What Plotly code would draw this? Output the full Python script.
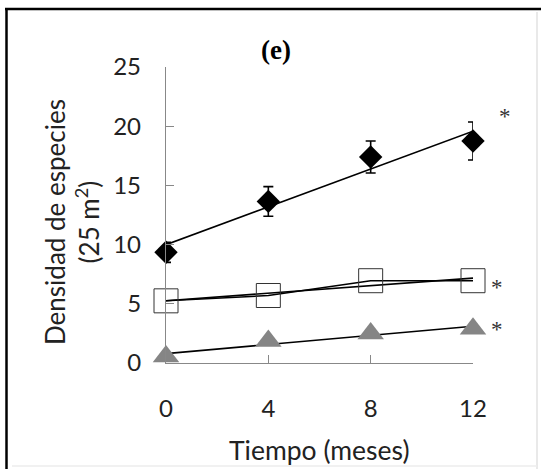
import numpy as np
import plotly.graph_objects as go

# ---- data ----
months = [0, 4, 8, 12]
diamond_vals = [9.35, 13.65, 17.4, 18.75]
diamond_err = [0.85, 1.25, 1.35, 1.6]
square_vals = [5.25, 5.7, 6.95, 6.95]
triangle_vals = [0.55, 1.85, 2.5, 2.9]
x_ticks = [0, 4, 8, 12]
y_ticks = [0, 5, 10, 15, 20, 25]
star_x = [13.25, 12.95, 12.95]
star_y = [20.8, 6.4, 2.8]

X_RANGE = [0, 12]
Y_RANGE = [0, 25]

W, H = 541, 469
L, R, T, B = 166, 68, 67, 106
pw, ph = W - L - R, H - T - B

def px2paper(px, py):
    return (px - L) / pw, (H - B - py) / ph

def trend(vals):
    m, c = np.polyfit(months, vals, 1)
    xs = [months[0], months[-1]]
    return xs, [m * x + c for x in xs]

fig = go.Figure()

fig.add_trace(go.Scatter(x=months, y=square_vals, mode="lines",
                         line=dict(color="black", width=1.5), cliponaxis=False, showlegend=False))
for vals in (diamond_vals, square_vals, triangle_vals):
    tx, ty = trend(vals)
    fig.add_trace(go.Scatter(x=tx, y=ty, mode="lines",
                             line=dict(color="black", width=1.6), cliponaxis=False, showlegend=False))

fig.add_trace(go.Scatter(x=months, y=diamond_vals, mode="markers",
                         marker=dict(symbol="diamond", size=18, color="black"),
                         error_y=dict(type="data", array=diamond_err, color="black", thickness=1.6, width=5),
                         cliponaxis=False, showlegend=False))
fig.add_trace(go.Scatter(x=months, y=square_vals, mode="markers",
                         marker=dict(symbol="square", size=24, color="rgba(255,255,255,0)",
                                     line=dict(color="#333333", width=1)),
                         cliponaxis=False, showlegend=False))
fig.add_trace(go.Scatter(x=months, y=triangle_vals, mode="markers",
                         marker=dict(symbol="triangle-up", size=23, color="#858585"),
                         cliponaxis=False, showlegend=False))

font_main = "Lato, Open Sans, sans-serif"

annotations = []
for sx, sy in zip(star_x, star_y):
    annotations.append(dict(x=(sx - X_RANGE[0]) / (X_RANGE[1] - X_RANGE[0]),
                            y=(sy - Y_RANGE[0]) / (Y_RANGE[1] - Y_RANGE[0]),
                            xref="paper", yref="paper", text="*", showarrow=False,
                            xanchor="center", yanchor="middle",
                            font=dict(family="Liberation Serif, serif", size=23, color="#333333")))

def ann(px, py, text, font, angle=0):
    ax, ay = px2paper(px, py)
    return dict(x=ax, y=ay, xref="paper", yref="paper", text=text, showarrow=False,
                xanchor="center", yanchor="middle", textangle=angle, font=font)

annotations.append(ann(276, 50, "<b>(e)</b>", dict(family="Liberation Serif, serif", size=27, color="black")))
annotations.append(ann(319, 450, "Tiempo (meses)", dict(family=font_main, size=26.5, color="#222222")))
annotations.append(ann(72, 222, "Densidad de especies<br>(25 m<sup>2</sup>)",
                       dict(family=font_main, size=26, color="#222222"), angle=-90))

def pline(px0, py0, px1, py1, color, width):
    a0, b0 = px2paper(px0, py0)
    a1, b1 = px2paper(px1, py1)
    return dict(type="line", xref="paper", yref="paper", x0=a0, y0=b0, x1=a1, y1=b1,
                line=dict(color=color, width=width))

shapes = [
    pline(537, 12, 537, 469, "#e2e2e2", 1.5),   # faint right edge
    pline(12, 466, 537, 466, "#ececec", 1.5),   # faint bottom edge
    pline(5, 9, 541, 9, "black", 2.5),          # top border
    pline(6.5, 8, 6.5, 469, "black", 2.5),      # left border
]

fig.update_layout(
    width=W, height=H, margin=dict(l=L, r=R, t=T, b=B),
    paper_bgcolor="white", plot_bgcolor="white",
    annotations=annotations, shapes=shapes,
    xaxis=dict(range=X_RANGE, tickvals=x_ticks, ticks="inside", ticklen=8, tickcolor="#888888",
               showline=True, linecolor="#888888", linewidth=1.3, showgrid=False, zeroline=False,
               ticklabelstandoff=24, tickfont=dict(family=font_main, size=24, color="#222222")),
    yaxis=dict(range=Y_RANGE, tickvals=y_ticks, ticks="inside", ticklen=8, tickcolor="#888888",
               showline=True, linecolor="#888888", linewidth=1.3, showgrid=False, zeroline=False,
               ticklabelstandoff=19, tickfont=dict(family=font_main, size=24, color="#222222")),
)

fig.write_html("out.html", config={"displayModeBar": False},
               post_script="document.body.style.margin='0';")
